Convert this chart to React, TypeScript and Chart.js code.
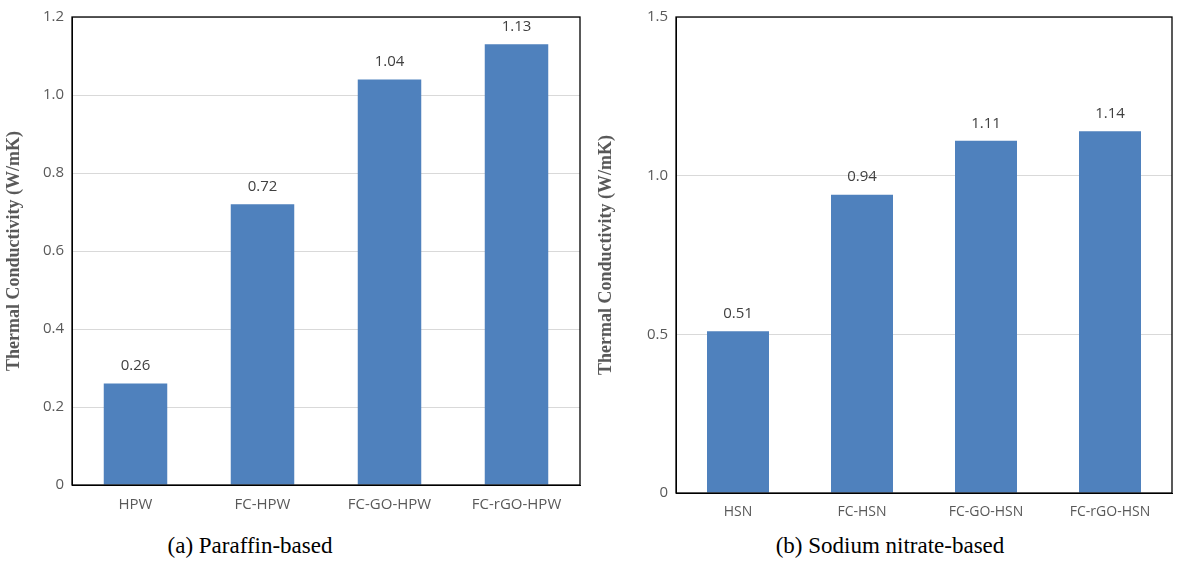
import React, { useEffect, useRef } from "react";
import { Chart, registerables } from "chart.js";
Chart.register(...registerables);

const catsA = ["HPW", "FC-HPW", "FC-GO-HPW", "FC-rGO-HPW"];
const valsA = [0.26, 0.72, 1.04, 1.13];
const catsB = ["HSN", "FC-HSN", "FC-GO-HSN", "FC-rGO-HSN"];
const valsB = [0.51, 0.94, 1.11, 1.14];
const yTitle = "Thermal Conductivity (W/mK)";
const capA = "(a) Paraffin-based";
const capB = "(b) Sodium nitrate-based";

const sans = "'Open Sans', 'DejaVu Sans', sans-serif";
const serif = "'Liberation Serif', 'Times New Roman', serif";

const boxAndLabels = {
  id: "boxAndLabels",
  afterDatasetsDraw(chart: any) {
    const { ctx, chartArea: a } = chart;
    ctx.save();
    ctx.strokeStyle = "#000";
    ctx.lineWidth = 1.3;
    ctx.strokeRect(a.left, a.top, a.right - a.left, a.bottom - a.top);
    ctx.fillStyle = "#404040";
    ctx.font = `15px ${sans}`;
    ctx.textAlign = "center";
    ctx.textBaseline = "bottom";
    const meta = chart.getDatasetMeta(0);
    meta.data.forEach((el: any, i: number) => {
      ctx.fillText(String(chart.data.datasets[0].data[i]), el.x, el.y - 10);
    });
    ctx.restore();
  },
};

function Panel({ cats, vals, max, step, yw, xh, pr, pt, xFont }: any) {
  const ref = useRef<HTMLCanvasElement>(null);
  useEffect(() => {
    const c = new Chart(ref.current!, {
      type: "bar",
      data: { labels: cats, datasets: [{ data: vals, backgroundColor: "#4f81bd", barPercentage: 0.5, categoryPercentage: 1 }] },
      options: {
        animation: false,
        responsive: false,
        layout: { padding: { right: pr, top: pt, bottom: 0, left: 0 } },
        plugins: { legend: { display: false }, tooltip: { enabled: false } },
        scales: {
          x: {
            grid: { display: false },
            border: { color: "#000" },
            ticks: { color: "#595959", font: { family: sans, size: xFont } },
            afterFit: (s: any) => { s.height = xh; },
          },
          y: {
            min: 0, max,
            ticks: { stepSize: step, color: "#595959", font: { family: sans, size: 15 }, padding: 8 },
            grid: { color: "#d9d9d9", tickLength: 0 },
            border: { color: "#000" },
            title: { display: true, text: yTitle, color: "#595959", font: { family: serif, size: 18, weight: "bold" } },
            afterFit: (s: any) => { s.width = yw; },
          },
        },
      },
      plugins: [boxAndLabels],
    } as any);
    return () => c.destroy();
  }, []);
  return <canvas ref={ref} width={588} height={530} />;
}

export default function App() {
  return (
    <div style={{ position: "fixed", left: 0, top: 0, width: 1180, height: 566, background: "#fff" }}>
      <div style={{ position: "absolute", left: 0, top: 0 }}>
        <Panel cats={catsA} vals={valsA} max={1.2} step={0.2} yw={72} xh={45} pr={8} pt={16} xFont={15} />
      </div>
      <div style={{ position: "absolute", left: 592, top: 0 }}>
        <Panel cats={catsB} vals={valsB} max={1.5} step={0.5} yw={84} xh={37} pr={8} pt={12} xFont={14} />
      </div>
      <div style={{ position: "absolute", left: 0, width: 500, top: 533, textAlign: "center", fontFamily: serif, fontSize: 23 }}>{capA}</div>
      <div style={{ position: "absolute", left: 640, width: 500, top: 533, textAlign: "center", fontFamily: serif, fontSize: 23 }}>{capB}</div>
    </div>
  );
}
